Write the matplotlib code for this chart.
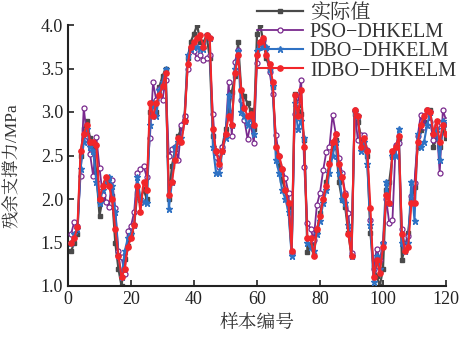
import matplotlib
matplotlib.use("Agg")
import matplotlib.pyplot as plt
import numpy as np

samples = list(range(1, 121))

actual = [1.40, 1.50, 1.60, 2.50, 2.80, 2.90, 2.70, 2.61, 2.30, 1.81,
          2.00, 2.20, 2.20, 2.03, 1.50, 1.20, 1.00, 1.31, 1.46, 1.61,
          1.70, 2.07, 2.00, 2.11, 2.00, 3.00, 3.12, 3.00, 3.29, 3.41,
          3.50, 2.00, 2.38, 2.57, 2.72, 2.82, 2.95, 3.62, 3.81, 3.90,
          4.00, 3.80, 3.80, 3.88, 3.62, 2.72, 2.55, 2.42, 2.60, 2.80,
          3.00, 3.23, 3.41, 3.80, 3.25, 3.18, 3.10, 3.02, 2.81, 3.90,
          4.00, 3.81, 3.62, 3.50, 3.29, 2.60, 2.39, 2.22, 2.10, 1.91,
          1.39, 3.21, 3.08, 2.98, 2.68, 1.39, 1.47, 1.36, 1.62, 1.84,
          1.99, 2.20, 2.41, 2.60, 2.68, 2.20, 1.99, 1.91, 1.61, 1.34,
          2.98, 2.89, 2.72, 2.60, 2.49, 1.61, 1.22, 1.11, 1.00, 1.20,
          2.10, 2.20, 2.49, 2.60, 2.70, 1.30, 1.45, 1.61, 1.99, 2.14,
          2.60, 2.79, 2.89, 3.02, 3.02, 2.60, 2.70, 2.60, 2.79, 2.70]

pso = [1.60, 1.74, 1.69, 2.27, 3.05, 2.72, 2.52, 2.26, 2.71, 2.36,
       2.05, 1.96, 1.91, 2.22, 1.90, 1.40, 1.33, 1.14, 1.63, 1.69,
       1.85, 2.30, 2.35, 2.38, 2.25, 2.70, 3.34, 3.14, 3.27, 3.14,
       3.37, 2.50, 2.57, 2.60, 2.45, 2.85, 2.95, 3.50, 3.72, 3.70,
       3.62, 3.65, 3.60, 3.62, 3.65, 2.98, 2.48, 2.37, 2.60, 2.75,
       3.34, 2.72, 3.58, 3.71, 3.14, 2.91, 2.69, 2.87, 2.64, 3.56,
       3.77, 3.83, 3.73, 3.46, 3.21, 2.74, 2.49, 2.35, 2.24, 2.07,
       1.38, 2.98, 3.10, 3.37, 2.37, 1.72, 1.66, 1.53, 1.93, 2.07,
       2.33, 2.54, 2.60, 2.97, 2.75, 2.47, 2.30, 2.07, 1.84, 1.38,
       3.02, 2.68, 2.74, 2.74, 2.56, 1.76, 1.20, 1.43, 1.30, 1.49,
       2.00, 1.72, 1.76, 2.62, 2.64, 1.66, 1.45, 1.57, 2.03, 2.18,
       2.72, 2.97, 2.83, 3.02, 2.89, 2.68, 2.85, 2.30, 3.02, 2.91]

dbo = [1.50, 1.60, 1.65, 2.35, 2.65, 2.80, 2.60, 2.55, 2.20, 1.95,
       2.10, 2.20, 2.25, 2.15, 1.85, 1.35, 1.10, 1.40, 1.55, 1.60,
       1.70, 2.25, 2.00, 1.96, 1.95, 2.85, 3.10, 2.95, 3.25, 3.35,
       3.50, 1.88, 2.20, 2.60, 2.65, 2.70, 2.90, 3.65, 3.72, 3.75,
       3.75, 3.72, 3.72, 3.88, 3.85, 2.60, 2.30, 2.30, 2.55, 2.70,
       3.20, 2.85, 3.50, 3.70, 3.00, 2.95, 2.85, 2.95, 2.75, 3.70,
       3.80, 3.75, 3.75, 3.50, 3.30, 2.45, 2.30, 2.10, 2.00, 1.85,
       1.35, 3.10, 2.80, 2.90, 2.70, 1.50, 1.45, 1.40, 1.60, 1.75,
       1.95, 2.10, 2.30, 2.50, 2.65, 2.30, 2.00, 1.95, 1.70, 1.35,
       3.00, 2.95, 2.55, 2.65, 2.40, 1.70, 1.05, 1.35, 1.20, 1.50,
       2.20, 1.95, 2.50, 2.50, 2.80, 1.50, 1.40, 1.50, 2.20, 1.75,
       2.75, 2.60, 2.65, 2.85, 3.00, 2.75, 2.80, 2.45, 2.90, 2.85]

idbo = [1.50, 1.55, 1.68, 2.55, 2.75, 2.85, 2.65, 2.65, 2.62, 2.00,
        2.15, 2.25, 2.15, 2.00, 1.65, 1.35, 1.10, 1.20, 1.45, 1.55,
        1.70, 2.15, 1.85, 2.20, 2.10, 3.10, 2.95, 3.10, 3.20, 3.30,
        3.45, 2.05, 2.20, 2.45, 2.70, 2.65, 2.90, 3.55, 3.75, 3.80,
        3.85, 3.88, 3.75, 3.88, 3.85, 2.80, 2.55, 2.40, 2.55, 2.75,
        2.95, 2.85, 3.45, 3.65, 3.25, 3.05, 2.95, 2.98, 2.85, 3.65,
        3.80, 3.85, 3.65, 3.55, 3.35, 2.60, 2.50, 2.35, 2.10, 1.95,
        1.40, 3.20, 2.95, 3.25, 2.60, 1.55, 1.55, 1.35, 1.65, 1.80,
        2.00, 2.15, 2.40, 2.65, 2.75, 2.40, 2.25, 2.05, 1.60, 1.35,
        3.02, 2.95, 2.60, 2.70, 2.55, 1.90, 1.10, 1.30, 1.15, 1.45,
        2.05, 1.95, 2.55, 2.60, 2.72, 1.60, 1.40, 1.45, 1.95, 1.95,
        2.65, 2.85, 2.95, 3.02, 3.00, 2.75, 2.90, 2.65, 2.85, 2.75]

labels = ["实际值", "PSO\u2212DHKELM", "DBO\u2212DHKELM", "IDBO\u2212DHKELM"]
x_ticks = [0, 20, 40, 60, 80, 100, 120]
y_ticks = [1.0, 1.5, 2.0, 2.5, 3.0, 3.5, 4.0]

fam = ["Liberation Serif", "Noto Serif CJK SC", "Noto Sans CJK SC"]
plt.rcParams["font.family"] = fam
plt.rcParams["axes.unicode_minus"] = True

fig = plt.figure(figsize=(4.59, 3.41), dpi=100)
ax = fig.add_axes([68 / 459, 55 / 341, 378 / 459, 261 / 341])

ax.plot(samples, actual, color="#4a4a4a", lw=1.6, marker="s", ms=3.2, label=labels[0], zorder=2)
ax.plot(samples, pso, color="#7a2a8e", lw=1.3, marker="o", ms=3.6, mfc="white", mew=0.9, label=labels[1], zorder=3)
ax.plot(samples, dbo, color="#2f72c4", lw=1.5, marker="*", ms=4.5, label=labels[2], zorder=4)
ax.plot(samples, idbo, color="#f2262a", lw=1.5, marker="o", ms=3.8, label=labels[3], zorder=5)

ax.set_xlim(0, 120)
ax.set_ylim(1.0, 4.0)
ax.set_xticks(x_ticks)
ax.set_yticks(y_ticks)
ax.set_yticklabels([f"{v:.1f}" for v in y_ticks])
ax.tick_params(direction="in", length=4, width=1.2, labelsize=13, colors="#222222")
for s in ["top", "right"]:
    ax.spines[s].set_visible(False)
for s in ["left", "bottom"]:
    ax.spines[s].set_linewidth(1.5)
    ax.spines[s].set_color("#222222")

ax.set_xlabel("样本编号", fontsize=13.5, color="#333333", labelpad=5)
ax.set_ylabel("残余支撑力/MPa", fontsize=12.5, color="#333333")
ax.yaxis.set_label_coords(-0.125, 0.46)

leg = ax.legend(loc="upper right", bbox_to_anchor=((456 - 68) / 378, 1.0 + 21 / 261),
                frameon=False, fontsize=14.5, handlelength=2.3, handletextpad=0.35,
                labelspacing=0.0, borderaxespad=0, borderpad=0)
for t in leg.get_texts():
    t.set_color("#333333")

fig.savefig("out.png", dpi=100)
